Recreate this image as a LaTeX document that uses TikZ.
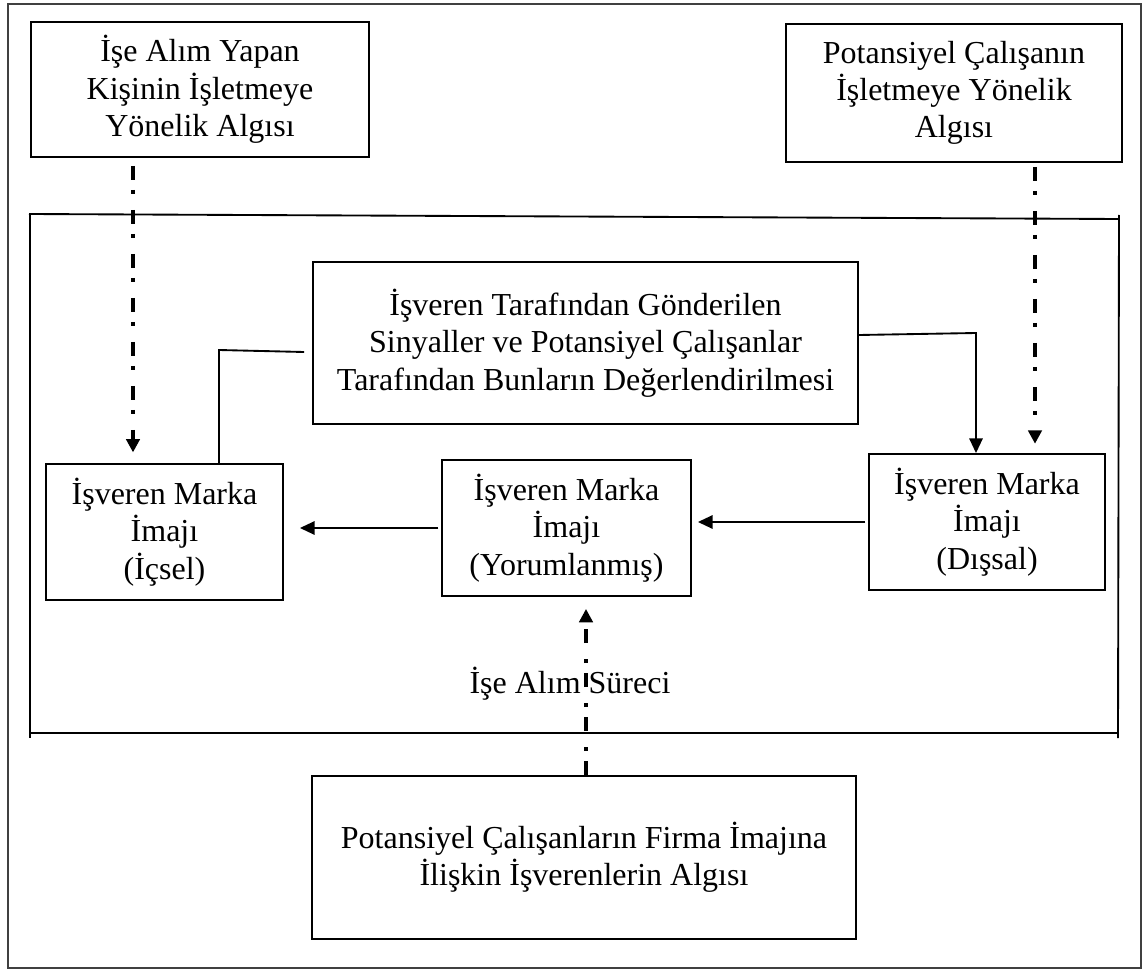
\documentclass[tikz,border=0pt]{standalone}
\usepackage{fontspec}
\setmainfont{Liberation Serif}
\usetikzlibrary{arrows.meta}

\begin{document}
\begin{tikzpicture}[x=0.75pt,y=-0.75pt,
  every node/.style={font=\fontsize{24}{28}\selectfont},
  box/.style={draw, line width=1.4pt, align=center, inner sep=0pt},
  conn/.style={line width=1.4pt},
  conna/.style={conn, -{Triangle[width=10pt,length=11pt]}},
  dd/.style={line width=2.5pt, dash pattern=on 10.5pt off 7.5pt on 3pt off 12pt,
             -{Triangle[width=10pt,length=10pt]}},
  frame/.style={line width=1.4pt}]
\useasboundingbox (0,0) rectangle (1143,970);

% outer border
\draw[line width=1.5pt, black!75] (8,4) rectangle (1141,968);

% inner frame
\draw[frame] (29,214) -- (1119,219);
\draw[frame] (1119,215) -- (1118,738);
\draw[frame] (30,214) -- (30,738);
\draw[frame] (30,733) -- (1117,733);

% boxes
\node[box, minimum width={338*0.75pt}, minimum height={135*0.75pt}] (tl) at (200,89.5)
  {İşe Alım Yapan\\Kişinin İşletmeye\\Yönelik Algısı};
\node[box, minimum width={336*0.75pt}, minimum height={138*0.75pt}] (tr) at (954,93)
  {Potansiyel Çalışanın\\İşletmeye Yönelik\\Algısı};
\node[box, minimum width={545*0.75pt}, minimum height={162*0.75pt}] (mid) at (585.5,343)
  {İşveren Tarafından Gönderilen\\Sinyaller ve Potansiyel Çalışanlar\\Tarafından Bunların Değerlendirilmesi};
\node[box, minimum width={237*0.75pt}, minimum height={136*0.75pt}] (ic) at (164.5,532)
  {İşveren Marka\\İmajı\\(İçsel)};
\node[box, minimum width={249*0.75pt}, minimum height={136*0.75pt}] (yor) at (566.5,528)
  {İşveren Marka\\İmajı\\(Yorumlanmış)};
\node[box, minimum width={236*0.75pt}, minimum height={136*0.75pt}] (dis) at (987,522)
  {İşveren Marka\\İmajı\\(Dışsal)};
\node[box, minimum width={544*0.75pt}, minimum height={163*0.75pt}] (bot) at (584,857.5)
  {Potansiyel Çalışanların Firma İmajına\\İlişkin İşverenlerin Algısı};

% label on the recruitment arrow
\node (lbl) at (570,684) {İşe Alım Süreci};

% dash-dot arrows
\coordinate (lx) at (133,0);
\draw[dd, shorten <=6pt, shorten >=8pt] (tl.south -| lx) -- (ic.north -| lx);
\coordinate (rx) at (1035,0);
\draw[dd, shorten <=3pt, shorten >=7pt] (tr.south -| rx) -- (dis.north -| rx);
\coordinate (bx) at (586,0);
\draw[dd, shorten >=9pt] (bot.north -| bx) -- (yor.south -| bx);

% solid connectors
\coordinate (lbend) at (219,350);
\draw[conn] ([shift={(-6pt,-6.75pt)}]mid.west) -- (lbend) -- (lbend |- ic.north);
\coordinate (rbend) at (976,333);
\draw[conna] ([yshift=6pt]mid.east) -- (rbend) -- (rbend |- dis.north);
\draw[conna, shorten >=4.5pt] ([xshift=-2pt]dis.west) -- (dis.west -| yor.east);
\draw[conna, shorten >=12pt] ([xshift=-2pt]yor.west) -- (yor.west -| ic.east);
\end{tikzpicture}
\end{document}
